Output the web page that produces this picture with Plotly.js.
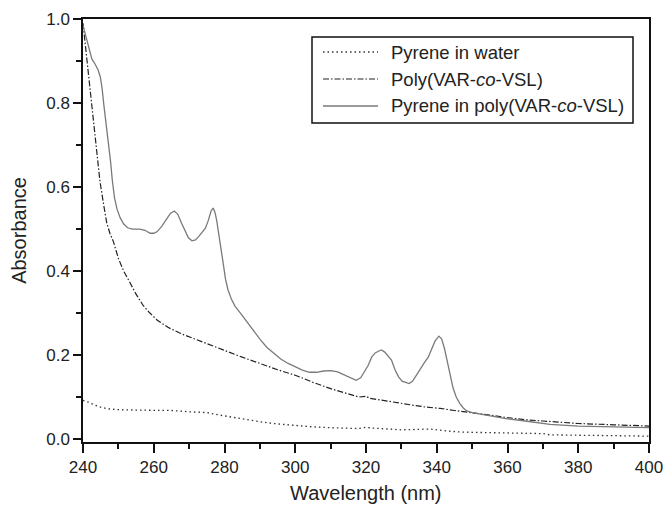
<!DOCTYPE html>
<html>
<head>
<meta charset="utf-8">
<script src="https://cdn.plot.ly/plotly-3.0.1.min.js"></script>
<style>html,body{margin:0;padding:0;background:#fff;}#chart{width:665px;height:508px;}</style>
</head>
<body>
<div id="chart"></div>
<script>
// Pyrene in water (dotted)
const waterX = [240,241.5,243,245,247,250,255,260,265,270,273,275,278,282,286,290,295,300,305,310,315,318,320,322,326,330,335,338,342,346,350,355,360,365,370,372,380,390,400];
const waterY = [0.092,0.088,0.082,0.076,0.072,0.070,0.069,0.069,0.068,0.065,0.064,0.063,0.058,0.052,0.046,0.041,0.036,0.032,0.029,0.027,0.025,0.025,0.028,0.026,0.024,0.022,0.023,0.024,0.020,0.017,0.016,0.015,0.014,0.014,0.013,0.010,0.009,0.008,0.007];

// Poly(VAR-co-VSL) (dash-dot)
const polyX = [240,240.5,241.2,242,242.9,243.8,244.8,245.8,246.7,247.6,248.6,250,251.5,253.3,255,257,258.9,261,264,268,272,276,280,285,290,295,300,305,310,315,318,320,321,324,328,333,337,341,345,350,355,360,365,370,375,380,390,400];
const polyY = [0.99,0.95,0.89,0.83,0.771,0.69,0.613,0.56,0.515,0.49,0.47,0.43,0.40,0.372,0.345,0.318,0.300,0.283,0.266,0.250,0.237,0.224,0.210,0.195,0.180,0.165,0.152,0.135,0.120,0.107,0.100,0.102,0.097,0.093,0.087,0.081,0.076,0.073,0.068,0.063,0.057,0.051,0.046,0.043,0.040,0.037,0.034,0.031];

// Pyrene in poly(VAR-co-VSL) (solid)
const pyPolyX = [240,240.6,241.5,242.5,243.4,244.3,244.9,245.4,245.9,246.6,247.2,247.8,248.3,248.9,249.6,250.5,251.5,252.6,254,256,257.5,259,260,261,262.3,263.5,264.7,265.8,266.8,267.8,268.8,269.8,270.8,271.8,272.8,273.8,274.6,275.4,276.2,276.8,277.3,277.8,278.4,279,279.6,280.3,281,282,283,284.5,286,288,290,292,294,296,298,300,302,304,306,308,310,312,314,316,317.2,318.5,319.6,320.6,321.6,322.6,323.5,324.4,325.3,326.2,327.2,328.2,329.2,330.2,331.2,332.2,333.2,334.2,335.3,336.5,337.6,338.6,339.5,340.6,341.4,342.2,343,343.8,344.6,345.5,346.5,347.5,348.5,350,352,355,360,365,370,372,380,390,400];
const pyPolyY = [0.985,0.966,0.935,0.905,0.893,0.878,0.862,0.835,0.795,0.748,0.710,0.660,0.615,0.575,0.548,0.527,0.512,0.503,0.500,0.500,0.497,0.490,0.490,0.494,0.507,0.523,0.537,0.543,0.535,0.515,0.495,0.479,0.472,0.474,0.483,0.494,0.502,0.520,0.543,0.550,0.540,0.520,0.490,0.455,0.420,0.380,0.355,0.332,0.316,0.300,0.283,0.260,0.238,0.218,0.203,0.190,0.180,0.171,0.164,0.159,0.159,0.162,0.163,0.160,0.152,0.143,0.140,0.146,0.160,0.175,0.195,0.205,0.209,0.212,0.207,0.197,0.188,0.165,0.148,0.138,0.135,0.132,0.138,0.152,0.168,0.182,0.195,0.215,0.233,0.245,0.238,0.215,0.185,0.150,0.122,0.100,0.085,0.074,0.067,0.063,0.060,0.055,0.048,0.043,0.038,0.035,0.031,0.029,0.027];

const seriesNames = ["Pyrene in water", "Poly(VAR-<i>co</i>-VSL)", "Pyrene in poly(VAR-<i>co</i>-VSL)"];
const xTicks = [240,260,280,300,320,340,360,380,400];
const yTicks = [0.0,0.2,0.4,0.6,0.8,1.0];

const FONT = "Liberation Sans, Arial, sans-serif";
const colors = ["#333", "#222", "#7a7a7a"];
const dashes = ["1.5px,3px", "6px,2px,1.5px,2px", "solid"];
const widths = [1.3, 1.2, 1.3];
const datasets = [[waterX, waterY], [polyX, polyY], [pyPolyX, pyPolyY]];

const traces = datasets.map((d, i) => ({
  x: d[0], y: d[1], mode: "lines",
  line: {color: colors[i], width: widths[i], dash: dashes[i]}
}));

const PL = 83, PR = 649, PT = 19, PB = 442;
const px = v => (v - PL) / (PR - PL);
const py = v => (PB - v) / (PB - PT);

// manual legend
const rowsY = [52, 79, 106];
const shapes = [{type: "rect", xref: "paper", yref: "paper", x0: px(312), x1: px(633), y0: py(123), y1: py(37),
  line: {color: "#111", width: 1.5}, fillcolor: "#fff", layer: "above"}];
const annotations = [];
rowsY.forEach((ry, i) => {
  shapes.push({type: "line", xref: "paper", yref: "paper", x0: px(323), x1: px(378), y0: py(ry), y1: py(ry),
    line: {color: colors[i], width: widths[i], dash: dashes[i]}, layer: "above"});
  annotations.push({xref: "paper", yref: "paper", x: px(389), y: py(ry), xanchor: "left", yanchor: "middle",
    text: seriesNames[i], showarrow: false, font: {family: FONT, size: 18.5, color: "#222"}});
});
// x-axis title
annotations.push({xref: "paper", yref: "paper", x: 0.5, y: py(493), xanchor: "center", yanchor: "middle",
  text: "Wavelength (nm)", showarrow: false, font: {family: FONT, size: 20, color: "#222"}});

const layout = {
  width: 665, height: 508,
  margin: {l: PL, r: 665 - PR, t: PT, b: 508 - PB},
  paper_bgcolor: "#fff", plot_bgcolor: "#fff",
  font: {family: FONT, size: 17, color: "#222"},
  showlegend: false,
  shapes: shapes,
  annotations: annotations,
  xaxis: {range: [240, 400], tick0: xTicks[0], dtick: xTicks[1] - xTicks[0], showgrid: false, zeroline: false,
    showline: true, linecolor: "#111", linewidth: 1.5, mirror: true,
    ticks: "outside", ticklen: 9, tickwidth: 1.5, tickcolor: "#111",
    minor: {ticks: "outside", ticklen: 5, tickwidth: 1.5, tickcolor: "#111", dtick: 10}},
  yaxis: {range: [-0.007, 1.0], dtick: yTicks[1] - yTicks[0], tickformat: ".1f", showgrid: false, zeroline: false,
    showline: true, linecolor: "#111", linewidth: 1.5, mirror: true,
    ticks: "outside", ticklen: 8, tickwidth: 1.5, tickcolor: "#111",
    minor: {ticks: "outside", ticklen: 5, tickwidth: 1.5, tickcolor: "#111", dtick: 0.1},
    tickfont: {family: FONT, size: 17, color: "#222"},
    title: {text: "Absorbance", font: {family: FONT, size: 20, color: "#222"}, standoff: 14}}
};

Plotly.newPlot("chart", traces, layout, {displayModeBar: false});
</script>
</body>
</html>
